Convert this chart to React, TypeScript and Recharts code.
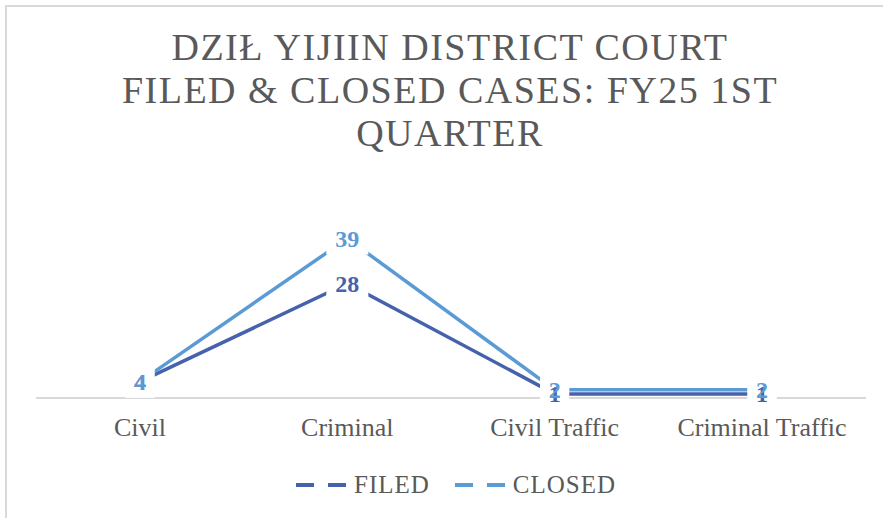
import React from 'react';
import { LineChart, Line, XAxis, YAxis, LabelList } from 'recharts';

const categories = ['Civil', 'Criminal', 'Civil Traffic', 'Criminal Traffic'];
const filed = [4, 28, 1, 1];
const closed = [4, 39, 2, 2];

const FILED_COLOR = '#4662AC';
const CLOSED_COLOR = '#5B9BD5';
const TEXT_COLOR = '#595959';
const FONT = '"Liberation Serif", "DejaVu Serif", serif';

const data = categories.map((name, i) => ({ name, filed: filed[i], closed: closed[i] }));

const labelBox = (props: any) => {
  const { x, y, value } = props;
  const w = String(value).length * 13 + 16;
  return <rect x={x - w / 2} y={y - 16} width={w} height={32} fill="#fff" />;
};

const labelText = (color: string) => (props: any) => {
  const { x, y, value } = props;
  return (
    <text
      x={x}
      y={y}
      dy={8}
      textAnchor="middle"
      fill={color}
      fontFamily={FONT}
      fontWeight="bold"
      fontSize={24}
    >
      {value}
    </text>
  );
};

const LegendItem = ({ color, label }: { color: string; label: string }) => (
  <div style={{ display: 'flex', alignItems: 'center', marginRight: 25 }}>
    <svg width={58} height={10}>
      <line x1={0} y1={5} x2={58} y2={5} stroke={color} strokeWidth={4} strokeDasharray="18 14" />
    </svg>
    <span style={{ fontFamily: FONT, fontSize: 25, letterSpacing: 1, color: TEXT_COLOR }}>{label}</span>
  </div>
);

const App: React.FC = () => {
  return (
    <div
      style={{
        position: 'fixed',
        left: 0,
        top: 0,
        width: 883,
        height: 518,
        overflow: 'hidden',
        background: '#fff',
      }}
    >
      <div
        style={{
          position: 'absolute',
          left: 5,
          top: 5,
          width: 900,
          height: 540,
          border: '2px solid #D9D9D9',
        }}
      />
      <div
        style={{
          position: 'absolute',
          left: 0,
          top: 26,
          width: 900,
          textAlign: 'center',
          fontFamily: FONT,
          fontSize: 38,
          letterSpacing: 1.5,
          lineHeight: '43px',
          color: TEXT_COLOR,
        }}
      >
        DZIŁ YIJIIN DISTRICT COURT
        <br />
        FILED &amp; CLOSED CASES: FY25 1ST
        <br />
        QUARTER
      </div>
      <div style={{ position: 'absolute', left: 0, top: 0 }}>
        <LineChart width={883} height={518} data={data} margin={{ top: 214, right: 17, bottom: 90, left: 36 }}>
          <XAxis
            dataKey="name"
            axisLine={{ stroke: '#D9D9D9', strokeWidth: 2 }}
            tickLine={false}
            tickSize={0}
            tickMargin={20}
            height={30}
            interval={0}
            padding={{ left: 104, right: 104 }}
            tick={{ fill: TEXT_COLOR, fontFamily: FONT, fontSize: 26 }}
          />
          <YAxis hide domain={[0, 45]} />
          <Line
            dataKey="filed"
            stroke={FILED_COLOR}
            strokeWidth={3.5}
            dot={false}
            isAnimationActive={false}
          >
            <LabelList dataKey="filed" content={labelBox} />
          </Line>
          <Line
            dataKey="closed"
            stroke={CLOSED_COLOR}
            strokeWidth={3.5}
            dot={false}
            isAnimationActive={false}
          >
            <LabelList dataKey="closed" content={labelBox} />
          </Line>
          <Line dataKey="filed" stroke="none" dot={false} isAnimationActive={false}>
            <LabelList dataKey="filed" content={labelText(FILED_COLOR)} />
          </Line>
          <Line dataKey="closed" stroke="none" dot={false} isAnimationActive={false}>
            <LabelList dataKey="closed" content={labelText(CLOSED_COLOR)} />
          </Line>
        </LineChart>
      </div>
      <div
        style={{
          position: 'absolute',
          left: 296,
          top: 471,
          display: 'flex',
          alignItems: 'center',
        }}
      >
        <LegendItem color={FILED_COLOR} label="FILED" />
        <LegendItem color={CLOSED_COLOR} label="CLOSED" />
      </div>
    </div>
  );
};

export default App;
